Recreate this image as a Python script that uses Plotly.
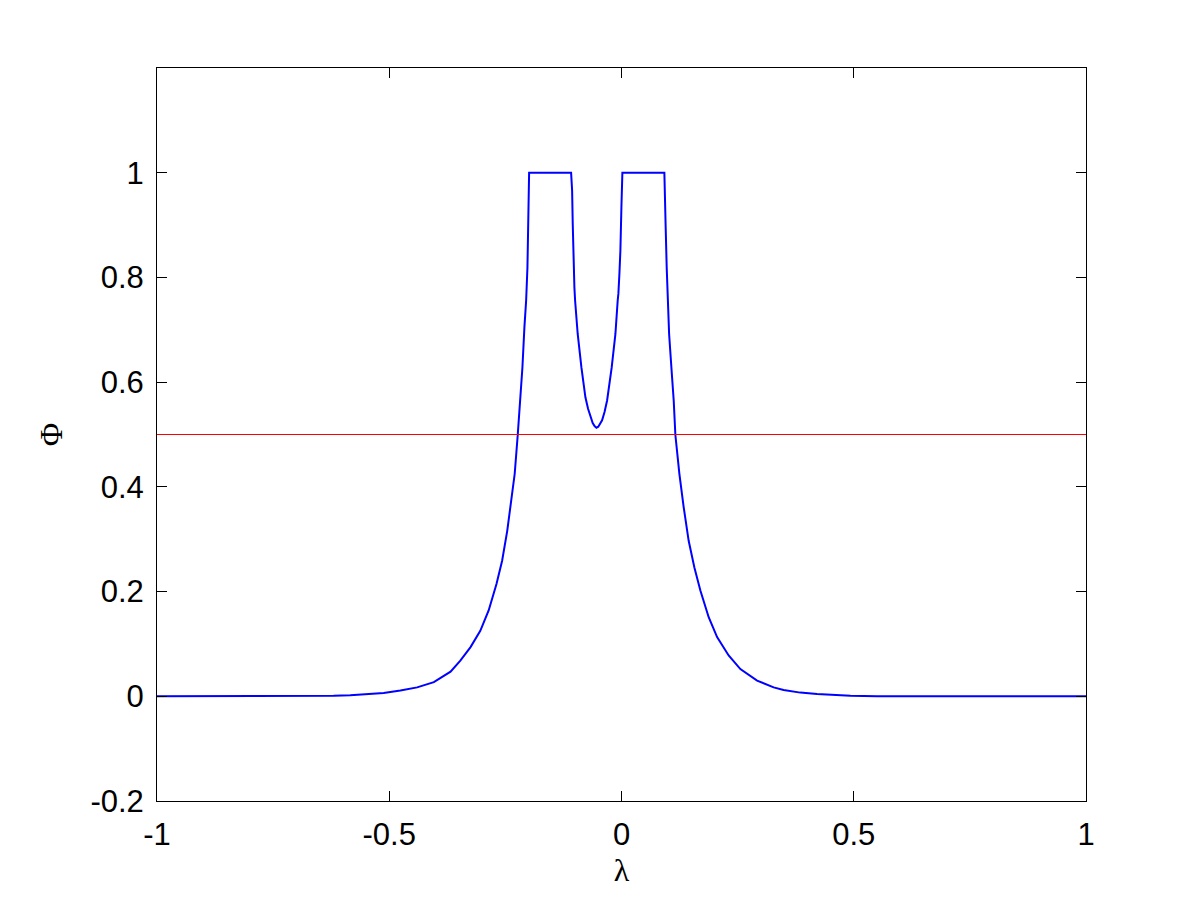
import plotly.graph_objects as go

# Phi(lambda) curve
lam = [-1.0, -0.70, -0.62, -0.584, -0.548, -0.512, -0.476, -0.440, -0.404, -0.368,
       -0.347, -0.325, -0.304, -0.286, -0.269, -0.257, -0.246, -0.2376, -0.2299, -0.2234,
       -0.2176, -0.2133, -0.209, -0.2053, -0.2025, -0.2004, -0.1989,
       -0.1085, -0.1063, -0.105, -0.1035, -0.1014, -0.0999, -0.0943, -0.0863, -0.0777,
       -0.0720, -0.0669, -0.0620, -0.0580, -0.054, -0.0500, -0.0460, -0.0418, -0.0365,
       -0.031, -0.0211, -0.0131, -0.0082, -0.0067, -0.0045,
       -0.0024, -0.0002, 0.0019,
       0.0923, 0.0938, 0.0951, 0.0973, 0.0994, 0.1025, 0.1074, 0.1124, 0.116, 0.1246,
       0.1339, 0.1446, 0.1569, 0.1698, 0.1877, 0.2058, 0.2307, 0.2559, 0.2919, 0.3276,
       0.349, 0.385, 0.421, 0.457, 0.493, 0.55, 1.0]
phi = [0.0, 0.0, 0.001, 0.002, 0.004, 0.0065, 0.011, 0.017, 0.027, 0.047,
       0.068, 0.094, 0.125, 0.164, 0.215, 0.259, 0.316, 0.374, 0.425, 0.499,
       0.565, 0.628, 0.705, 0.756, 0.819, 0.921, 1.0,
       1.0, 0.966, 0.903, 0.832, 0.781, 0.756, 0.692, 0.628, 0.571,
       0.549, 0.533, 0.522, 0.516, 0.513, 0.515, 0.520, 0.527, 0.543,
       0.565, 0.628, 0.692, 0.756, 0.769, 0.807,
       0.851, 0.934, 1.0,
       1.0, 0.959, 0.896, 0.819, 0.762, 0.692, 0.628, 0.565, 0.499, 0.425,
       0.361, 0.297, 0.246, 0.202, 0.151, 0.113, 0.078, 0.052, 0.030, 0.017,
       0.012, 0.007, 0.0045, 0.0027, 0.001, 0.0, 0.0]

# threshold line
thr_x = [-1.0, 1.0]
thr_y = [0.5, 0.5]

x_ticks = [-1, -0.5, 0, 0.5, 1]
x_ticktext = ["-1", "-0.5", "0", "0.5", "1"]
y_ticks = [-0.2, 0, 0.2, 0.4, 0.6, 0.8, 1]
y_ticktext = ["-0.2", "0", "0.2", "0.4", "0.6", "0.8", "1"]

fig = go.Figure()
fig.add_trace(go.Scatter(x=lam, y=phi, mode="lines",
                         line=dict(color="rgb(0,0,255)", width=2), showlegend=False))
fig.add_trace(go.Scatter(x=thr_x, y=thr_y, mode="lines",
                         line=dict(color="rgb(255,0,0)", width=1), showlegend=False))

tickfont = dict(family="Liberation Sans, Arial, sans-serif", size=31, color="black")
titlefont = dict(family="Liberation Serif, Times New Roman, serif", size=32, color="black")

fig.update_layout(
    width=1200, height=900,
    paper_bgcolor="white", plot_bgcolor="white",
    margin=dict(l=149, r=122, t=60, b=107, pad=0),
    xaxis=dict(range=[-1, 1], tickvals=x_ticks, ticktext=x_ticktext,
               ticks="inside", ticklen=10, tickcolor="black", tickwidth=1,
               showline=True, linecolor="black", linewidth=1, mirror="ticks",
               showgrid=False, zeroline=False, tickfont=tickfont,
               ticklabelstandoff=6,
               title=dict(text="λ", font=titlefont, standoff=2)),
    yaxis=dict(range=[-0.2, 1.2], tickvals=y_ticks, ticktext=y_ticktext,
               ticks="inside", ticklen=10, tickcolor="black", tickwidth=1,
               showline=True, linecolor="black", linewidth=1, mirror="ticks",
               showgrid=False, zeroline=False, tickfont=tickfont,
               ticklabelstandoff=6,
               title=dict(text="Φ", font=titlefont, standoff=18)),
)

fig.write_html("out.html")
